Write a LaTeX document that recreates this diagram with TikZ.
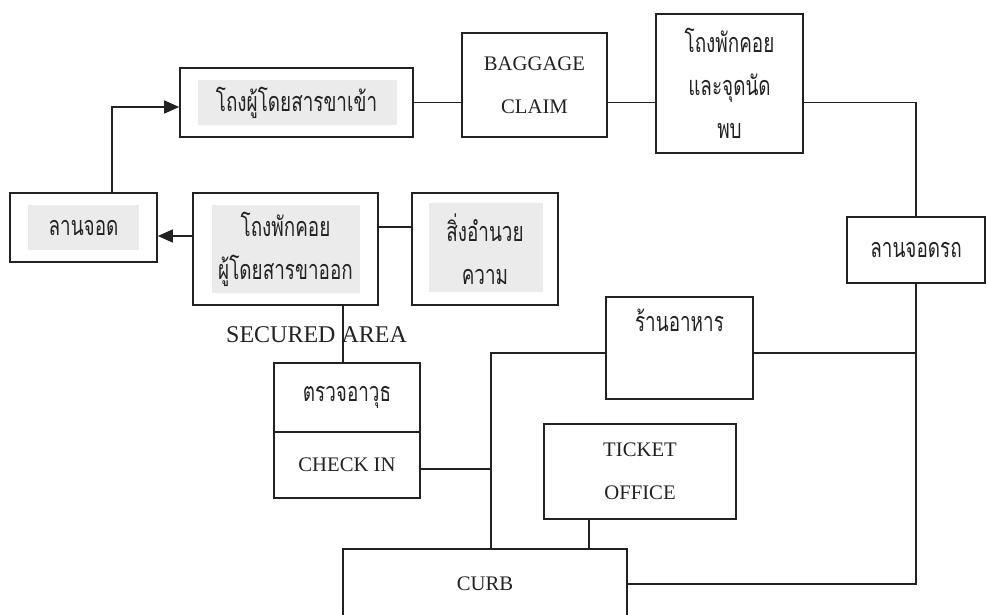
\documentclass[tikz,border=0pt]{standalone}
\usepackage{fontspec}
\setmainfont{Liberation Serif}
\newfontfamily\thai[Script=Thai,FakeStretch=0.7]{Loma}
\usetikzlibrary{arrows.meta}
\definecolor{ink}{HTML}{222222}
\definecolor{tone}{HTML}{EBEBEB}
\tikzset{
  box/.style={draw=ink, line width=1.6pt, inner sep=0pt, align=center, text=ink},
  en/.style={font=\fontsize{20.7}{43}\selectfont},
  th/.style={font=\thai\fontsize{27}{43}\selectfont},
  conn/.style={draw=ink, line width=1.4pt},
  arr/.style={conn, -{Triangle[length=15pt,width=13pt]}},
  toneb/.style={fill=tone}
}
\begin{document}
\begin{tikzpicture}[x=1pt,y=-1pt]
\useasboundingbox (0,0) rectangle (989,615);
% tone backgrounds
\fill[tone] (198,80) rectangle (397,125);
\fill[tone] (28,205) rectangle (139,250);
\fill[tone] (212,205) rectangle (360,293);
\fill[tone] (429,203) rectangle (543,292);
% boxes
\node[box,th,minimum width=233pt,minimum height=69pt] (arr) at (296.5,102.5) {โถงผู้โดยสารขาเข้า};
\node[box,th,minimum width=147pt,minimum height=69pt] (lot) at (83.5,227.5) {ลานจอด};
\node[box,th,minimum width=185pt,minimum height=112pt] (dep) at (285.5,249) {โถงพักคอย\\ผู้โดยสารขาออก};
\node[box,th,minimum width=146pt,minimum height=112pt] (fac) at (485,249) {สิ่งอำนวย\\ความ};
\node[box,en,minimum width=145pt,minimum height=104pt] (bag) at (534.5,85) {BAGGAGE\\CLAIM};
\node[box,th,minimum width=147pt,minimum height=139pt] (meet) at (729.5,83.5) {โถงพักคอย\\และจุดนัด\\พบ};
\node[box,th,minimum width=138pt,minimum height=66pt] (park) at (916,250) {ลานจอดรถ};
\node[box,th,minimum width=147pt,minimum height=102pt] (food) at (679.5,348) {ร้านอาหาร\\[0pt]\strut};
\node[box,en,minimum width=192pt,minimum height=95pt] (ticket) at (640,471.5) {TICKET\\OFFICE};
\node[box,th,minimum width=146pt,minimum height=69pt] (scr) at (347,397.5) {ตรวจอาวุธ};
\node[box,en,minimum width=146pt,minimum height=66pt] (chk) at (347,465) {CHECK IN};
\node[box,en,minimum width=284pt,minimum height=70pt] (curb) at (485,584) {CURB};
\node[anchor=base west,inner sep=0pt,text=ink,font=\fontsize{24}{28}\selectfont] (sa) at (226,342) {SECURED AREA};
% junction coordinates
\coordinate (j) at (491,549);
\coordinate (tk) at (589,519);
\coordinate (ds) at (343,305);
% connectors
\draw[arr] ([xshift=28.5pt]lot.north) |- ([yshift=-4.5pt]arr.west);
\draw[arr] ([yshift=13pt]dep.west) -- ([yshift=13pt]dep.west -| lot.east);
\draw[conn] ([yshift=22pt]dep.east) -- ([yshift=22pt]dep.east -| fac.west);
\draw[conn] (arr.east) -- (arr.east -| bag.west);
\draw[conn] (arr.east -| bag.east) -- (arr.east -| meet.west);
\draw[conn] (arr.east -| meet.east) -| (park.north);
\draw[conn] (park.south) |- (curb.east);
\draw[conn] ([yshift=-5pt]food.east) -- ([yshift=-5pt]food.east -| park.south);
\draw[conn] ([yshift=-5pt]food.west) -| (j);
\draw[conn] ([yshift=-4pt]chk.east) -- ([yshift=-4pt]chk.east -| j);
\draw[conn] (tk) -- (tk |- curb.north);
\draw[conn] (ds) -- (ds |- scr.north);
\end{tikzpicture}
\end{document}
